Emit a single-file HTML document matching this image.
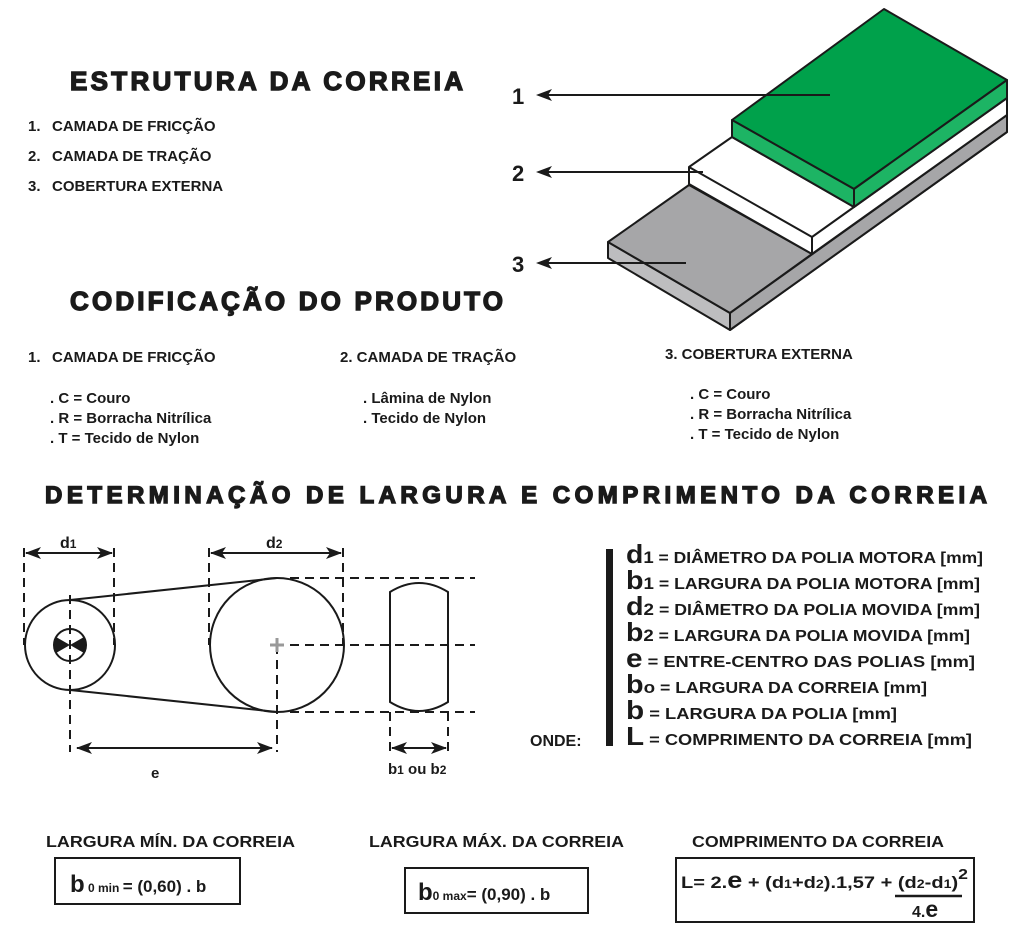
<!DOCTYPE html>
<html><head><meta charset="utf-8"><style>
html,body{margin:0;padding:0;background:#fff}
svg{display:block}
text{font-family:"Liberation Sans",sans-serif;font-weight:bold;fill:#1a1a1a}
.h{stroke:#1a1a1a;stroke-width:1.4}
</style></head><body>
<svg width="1024" height="929" viewBox="0 0 1024 929" xmlns="http://www.w3.org/2000/svg">
<defs>
<marker id="dh" markerWidth="16" markerHeight="12" refX="15" refY="6" orient="auto-start-reverse" markerUnits="userSpaceOnUse">
<path d="M0,0 L16,6 L0,12 L4,6 Z" fill="#1a1a1a"/></marker>
</defs>
<!-- headings -->
<text class="h" x="70" y="90" font-size="26" textLength="393" lengthAdjust="spacing">ESTRUTURA DA CORREIA</text>
<text x="28" y="131" font-size="15">1. <tspan x="52">CAMADA DE FRICÇÃO</tspan></text>
<text x="28" y="161" font-size="15">2. <tspan x="52">CAMADA DE TRAÇÃO</tspan></text>
<text x="28" y="191" font-size="15">3. <tspan x="52">COBERTURA EXTERNA</tspan></text>
<text class="h" x="70" y="310" font-size="26" textLength="433" lengthAdjust="spacing">CODIFICAÇÃO DO PRODUTO</text>
<text x="28" y="362" font-size="15">1. <tspan x="52">CAMADA DE FRICÇÃO</tspan></text>
<text x="50" y="403" font-size="15">. C = Couro</text>
<text x="50" y="423" font-size="15">. R = Borracha Nitrílica</text>
<text x="50" y="443" font-size="15">. T = Tecido de Nylon</text>
<text x="340" y="362" font-size="15">2. CAMADA DE TRAÇÃO</text>
<text x="363" y="403" font-size="15">. Lâmina de Nylon</text>
<text x="363" y="423" font-size="15">. Tecido de Nylon</text>
<text x="665" y="359" font-size="15">3. COBERTURA EXTERNA</text>
<text x="690" y="399" font-size="15">. C = Couro</text>
<text x="690" y="419" font-size="15">. R = Borracha Nitrílica</text>
<text x="690" y="439" font-size="15">. T = Tecido de Nylon</text>
<text class="h" x="45" y="503" font-size="24" textLength="942" lengthAdjust="spacing">DETERMINAÇÃO DE LARGURA E COMPRIMENTO DA CORREIA</text>

<!-- belt 3D -->
<g stroke="#1a1a1a" stroke-width="2" stroke-linejoin="round">
<polygon points="608,242 608,258 730,330 1007,132 1007,115 730,313" fill="#bdbdbf"/>
<polygon points="608,242 689,185 812,254 730,313" fill="#a6a6a8"/>
<polygon points="730,313 730,330 1007,132 1007,115" fill="#a6a6a8"/>
<polygon points="689,167 732,137 854,207 1007,98 1007,115 812,254 689,184" fill="#fff"/>
<polyline points="689,167 812,237 812,254" fill="none"/>
<line x1="812" y1="237" x2="854" y2="207"/>
<polygon points="732,120 884,9 1007,80 854,189" fill="#00a14b"/>
<polygon points="732,120 854,189 854,207 732,137" fill="#1db464"/>
<polygon points="854,189 1007,80 1007,98 854,207" fill="#1db464"/>
</g>
<g stroke="#1a1a1a" stroke-width="2">
<line x1="830" y1="95" x2="545" y2="95"/>
<line x1="703" y1="172" x2="545" y2="172"/>
<line x1="686" y1="263" x2="545" y2="263"/>
</g>
<g fill="#1a1a1a">
<path d="M536,95 L552,89 L548,95 L552,101 Z"/>
<path d="M536,172 L552,166 L548,172 L552,178 Z"/>
<path d="M536,263 L552,257 L548,263 L552,269 Z"/>
</g>
<text x="512" y="104" font-size="22">1</text>
<text x="512" y="181" font-size="22">2</text>
<text x="512" y="272" font-size="22">3</text>

<!-- pulleys -->
<g stroke="#1a1a1a" stroke-width="2" fill="none">
<circle cx="70" cy="645" r="45"/>
<circle cx="277" cy="645" r="67"/>
<line x1="70" y1="600" x2="277" y2="578"/>
<line x1="70" y1="690" x2="277" y2="712"/>
<path d="M390,592 Q419,574 448,592 L448,702 Q419,720 390,702 Z"/>
</g>
<circle cx="70" cy="645" r="16" fill="#fff" stroke="#1a1a1a" stroke-width="2"/>
<path d="M70,645 L56,637 A16,16 0 0 0 56,653 Z M70,645 L84,637 A16,16 0 0 1 84,653 Z" fill="#1a1a1a"/>
<g stroke="#1a1a1a" stroke-width="2" stroke-dasharray="9,6" fill="none">
<line x1="24" y1="548" x2="24" y2="645"/>
<line x1="114" y1="548" x2="114" y2="645"/>
<line x1="70" y1="595" x2="70" y2="752"/>
<line x1="209" y1="548" x2="209" y2="645"/>
<line x1="343" y1="548" x2="343" y2="645"/>
<line x1="277" y1="645" x2="277" y2="752"/>
<line x1="290" y1="578" x2="475" y2="578"/>
<line x1="290" y1="645" x2="475" y2="645"/>
<line x1="290" y1="712" x2="475" y2="712"/>
<line x1="390" y1="712" x2="390" y2="755"/>
<line x1="448" y1="712" x2="448" y2="755"/>
</g>
<path d="M270,645 h14 M277,638 v14" stroke="#999" stroke-width="3"/>
<g stroke="#1a1a1a" stroke-width="2">
<line x1="26" y1="553" x2="112" y2="553" marker-start="url(#dh)" marker-end="url(#dh)"/>
<line x1="211" y1="553" x2="341" y2="553" marker-start="url(#dh)" marker-end="url(#dh)"/>
<line x1="77" y1="748" x2="272" y2="748" marker-start="url(#dh)" marker-end="url(#dh)"/>
<line x1="392" y1="748" x2="446" y2="748" marker-start="url(#dh)" marker-end="url(#dh)"/>
</g>
<text x="60" y="548" font-size="16">d<tspan font-size="12">1</tspan></text>
<text x="266" y="548" font-size="16">d<tspan font-size="12">2</tspan></text>
<text x="151" y="778" font-size="15">e</text>
<text x="388" y="774" font-size="15">b<tspan font-size="12">1</tspan> ou b<tspan font-size="12">2</tspan></text>

<!-- legend -->
<rect x="606" y="549" width="7" height="197" fill="#1a1a1a"/>
<text x="530" y="746" font-size="16">ONDE:</text>
<g font-size="16">
<text x="626" y="563" textLength="357" lengthAdjust="spacingAndGlyphs"><tspan font-size="26">d</tspan><tspan font-size="17">1</tspan> = DIÂMETRO DA POLIA MOTORA [mm]</text>
<text x="626" y="589" textLength="354" lengthAdjust="spacingAndGlyphs"><tspan font-size="26">b</tspan><tspan font-size="17">1</tspan> = LARGURA DA POLIA MOTORA [mm]</text>
<text x="626" y="615" textLength="354" lengthAdjust="spacingAndGlyphs"><tspan font-size="26">d</tspan><tspan font-size="17">2</tspan> = DIÂMETRO DA POLIA MOVIDA [mm]</text>
<text x="626" y="641" textLength="344" lengthAdjust="spacingAndGlyphs"><tspan font-size="26">b</tspan><tspan font-size="17">2</tspan> = LARGURA DA POLIA MOVIDA [mm]</text>
<text x="626" y="667" textLength="349" lengthAdjust="spacingAndGlyphs"><tspan font-size="26">e</tspan>   = ENTRE-CENTRO DAS POLIAS [mm]</text>
<text x="626" y="693" textLength="301" lengthAdjust="spacingAndGlyphs"><tspan font-size="26">b</tspan><tspan font-size="17">o</tspan> = LARGURA DA CORREIA [mm]</text>
<text x="626" y="719" textLength="271" lengthAdjust="spacingAndGlyphs"><tspan font-size="26">b</tspan>   = LARGURA DA POLIA [mm]</text>
<text x="626" y="745" textLength="346" lengthAdjust="spacingAndGlyphs"><tspan font-size="26">L</tspan>   = COMPRIMENTO DA CORREIA [mm]</text>
</g>

<!-- bottom formulas -->
<text x="46" y="847" font-size="16" textLength="249" lengthAdjust="spacingAndGlyphs">LARGURA MÍN. DA CORREIA</text>
<text x="369" y="847" font-size="16" textLength="255" lengthAdjust="spacingAndGlyphs">LARGURA MÁX. DA CORREIA</text>
<text x="692" y="847" font-size="16" textLength="252" lengthAdjust="spacingAndGlyphs">COMPRIMENTO DA CORREIA</text>
<g fill="none" stroke="#1a1a1a" stroke-width="2">
<rect x="55" y="858" width="185" height="46"/>
<rect x="405" y="868" width="183" height="45"/>
<rect x="676" y="858" width="298" height="64"/>
</g>
<text x="70" y="892" font-size="24">b<tspan font-size="12"> 0 min </tspan><tspan font-size="17">= (0,60) . b</tspan></text>
<text x="418" y="900" font-size="24">b<tspan font-size="12">0 max</tspan><tspan font-size="17">= (0,90) . b</tspan></text>
<text x="681" y="888" font-size="17" textLength="287" lengthAdjust="spacingAndGlyphs">L= 2.<tspan font-size="23">e</tspan> + (d<tspan font-size="12">1</tspan>+d<tspan font-size="12">2</tspan>).1,57 + (d<tspan font-size="12">2</tspan>-d<tspan font-size="12">1</tspan>)<tspan font-size="15" dy="-9">2</tspan></text>
<line x1="895" y1="896" x2="962" y2="896" stroke="#1a1a1a" stroke-width="2.5"/>
<text x="912" y="917" font-size="16">4.<tspan font-size="23">e</tspan></text>
</svg>
</body></html>
